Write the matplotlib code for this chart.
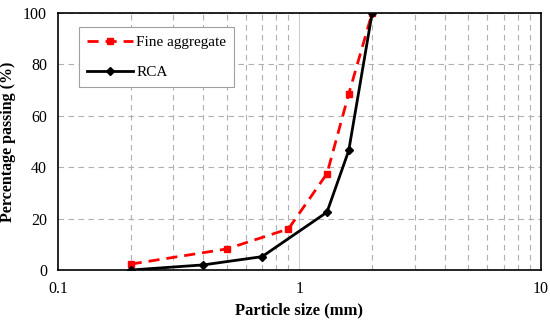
import matplotlib
matplotlib.use('Agg')
import matplotlib.pyplot as plt
from matplotlib.ticker import LogLocator, NullFormatter

plt.rcParams['font.family'] = ['Liberation Serif', 'DejaVu Serif']

# sieve sizes (mm) and percentage passing
fine_size = [0.2, 0.5, 0.9, 1.3, 1.6, 2.0]
fine_pass = [2.3, 8.2, 16.0, 37.5, 68.5, 100.0]
rca_size = [0.2, 0.4, 0.7, 1.3, 1.6, 2.0]
rca_pass = [0.0, 2.0, 5.2, 22.5, 46.5, 100.0]

fig = plt.figure(figsize=(5.5, 3.23), dpi=100)
ax = fig.add_axes([0.1055, 0.164, 0.878, 0.796])

ax.set_xscale('log')
ax.set_xlim(0.1, 10)
ax.set_ylim(0, 100)

# grid - dashed grey on minor, solid light at 1
ax.xaxis.set_minor_locator(LogLocator(base=10, subs=range(2, 10)))
ax.xaxis.set_minor_formatter(NullFormatter())
ax.set_xticks([0.1, 1, 10])
ax.set_xticklabels(['0.1', '1', '10'])
ax.set_yticks([0, 20, 40, 60, 80, 100])
ax.grid(which='minor', axis='x', color='#b0b0b0', linestyle=(0, (5, 4)), linewidth=0.8)
ax.grid(which='major', axis='y', color='#b0b0b0', linestyle=(0, (5, 4)), linewidth=0.8)
ax.axvline(1, color='#d0d0d0', linewidth=0.8, zorder=0)

ax.tick_params(which='both', length=0, labelsize=11.5, pad=8)
for s in ax.spines.values():
    s.set_linewidth(1.2)
    s.set_color('black')

ax.plot(fine_size, fine_pass, color='#ff0000', linestyle=(0, (4, 2.5)), linewidth=2,
        marker='s', markersize=5, label='Fine aggregate', zorder=3)
ax.plot(rca_size, rca_pass, color='black', linewidth=2,
        marker='D', markersize=4.5, label='RCA', zorder=4)

ax.set_xlabel('Particle size (mm)', fontsize=12, fontweight='bold', labelpad=4)
ax.set_ylabel('Percentage passing (%)', fontsize=11.5, fontweight='bold', labelpad=5)

leg = ax.legend(loc='upper left', bbox_to_anchor=(0.043, 0.945), fontsize=11,
                fancybox=False, edgecolor='#a0a0a0', framealpha=1,
                handlelength=3, borderpad=0.55, labelspacing=1.05, handletextpad=0.2,
                borderaxespad=0)
leg.get_frame().set_linewidth(0.8)

fig.savefig('out.png', dpi=100)
